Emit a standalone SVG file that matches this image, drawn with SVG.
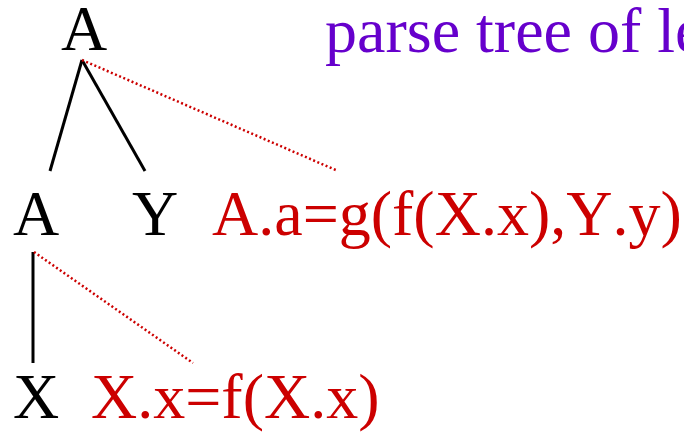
<svg xmlns="http://www.w3.org/2000/svg" width="684" height="432" viewBox="0 0 684 432">
<style>
text{font-family:"Liberation Serif","Times New Roman",serif;font-size:64px;font-kerning:none}
.sym{fill:#000}
.attr{fill:#CC0000}
.title{fill:#6600CC}
.edge{stroke:#000;stroke-width:3;fill:none}
.dep{stroke:#CC0000;stroke-width:2.5;stroke-dasharray:2 2.5;fill:none}
</style>
<rect width="684" height="432" fill="#fff"/>
<g id="title"><text class="title" x="325" y="52">parse tree of le</text></g>
<g id="connectors">
<line class="edge" x1="82" y1="60" x2="50" y2="171"/>
<line class="edge" x1="82" y1="60" x2="145" y2="171"/>
<line class="dep" x1="82" y1="60" x2="338" y2="171"/>
<line class="edge" x1="33" y1="252" x2="33" y2="363"/>
<line class="dep" x1="34" y1="252" x2="193" y2="363"/>
</g>
<g id="node-A-root"><text class="sym" x="61" y="50">A</text></g>
<g id="node-A"><text class="sym" x="13" y="235">A</text></g>
<g id="node-Y"><text class="sym" x="132" y="235">Y</text></g>
<g id="rule-A"><text class="attr" x="212" y="235">A.a=g(f(X.x),Y.y)</text></g>
<g id="node-X"><text class="sym" x="13" y="418">X</text></g>
<g id="rule-X"><text class="attr" x="91" y="418">X.x=f(X.x)</text></g>
</svg>
